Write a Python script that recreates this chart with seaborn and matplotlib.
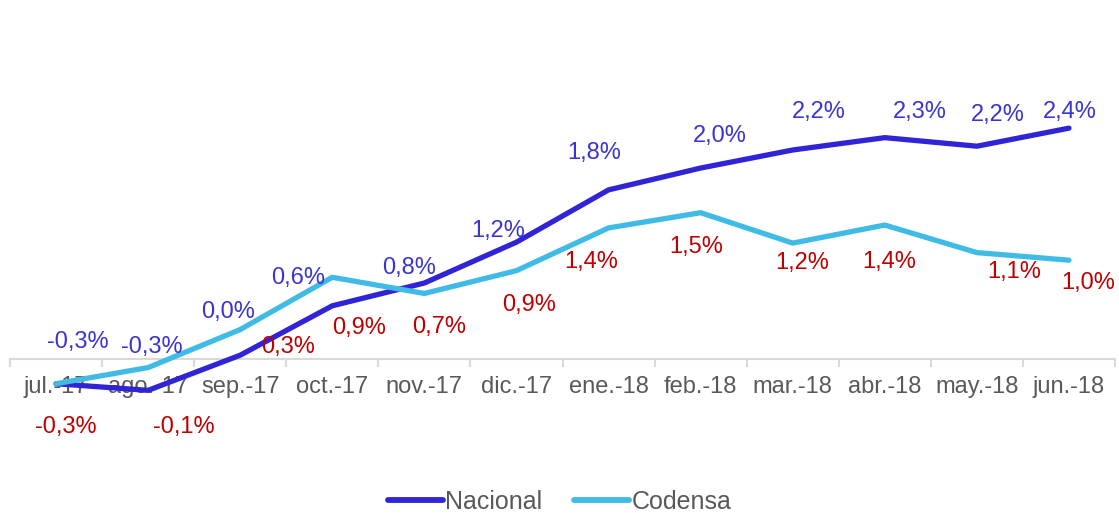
import matplotlib
matplotlib.use("Agg")
import matplotlib.pyplot as plt
import seaborn as sns
import pandas as pd
import numpy as np

months = ["jul.-17", "ago.-17", "sep.-17", "oct.-17", "nov.-17", "dic.-17",
          "ene.-18", "feb.-18", "mar.-18", "abr.-18", "may.-18", "jun.-18"]
nacional = [-0.26, -0.33, 0.04, 0.56, 0.80, 1.23, 1.78, 2.01, 2.20, 2.33, 2.24, 2.43]
codensa = [-0.26, -0.09, 0.31, 0.86, 0.69, 0.93, 1.38, 1.54, 1.22, 1.41, 1.12, 1.04]

# label offsets in pixels (dx right, dy up) -- styling only
nac_off = [(22, 42), (4, 43), (-12, 43), (-34, 28), (-15, 15), (-18, 11),
           (-14, 37), (19, 32), (26, 38), (35, 26), (21, 31), (1, 16)]
cod_off = [(10, -43), (36, -59), (48, -17), (27, -51), (15, -34), (13, -34),
           (-17, -34), (-4, -34), (9, -20), (4, -37), (37, -19), (19, -23)]

C_NAC = "#3024D6"
C_COD = "#40BBE6"
C_NAC_LBL = "#3A34D2"
C_COD_LBL = "#C00000"
C_TXT = "#595959"
C_AX = "#D9D9D9"
FS = 17

sns.set_theme(style="white")
plt.rcParams["font.family"] = ["Liberation Sans", "DejaVu Sans"]

W, H = 1119, 513
fig = plt.figure(figsize=(W / 100, H / 100), dpi=100)
ax = fig.add_axes([10 / W, (H - 406.5) / H, 1105 / W, 332.5 / H])

idx = list(range(len(months)))
df = pd.DataFrame({
    "x": idx * 2,
    "valor": nacional + codensa,
    "serie": ["Nacional"] * len(months) + ["Codensa"] * len(months),
})
sns.lineplot(data=df, x="x", y="valor", hue="serie",
             hue_order=["Nacional", "Codensa"],
             palette={"Nacional": C_NAC, "Codensa": C_COD},
             linewidth=3.8, ax=ax, sort=False, legend=True,
             solid_capstyle="round")

ax.set_xlim(-0.5, 11.5)
ax.set_ylim(-0.5, 3.0)
for s in ["top", "left", "right"]:
    ax.spines[s].set_visible(False)
ax.spines["bottom"].set_position(("data", 0))
ax.spines["bottom"].set_color(C_AX)
ax.spines["bottom"].set_linewidth(1.5)
ax.spines["bottom"].set_zorder(0)
ax.set_yticks([])
ax.set_xticks(idx)
ax.set_xticklabels(months)
ax.set_xticks(np.arange(-0.5, 12, 1), minor=True)
ax.tick_params(axis="x", which="major", length=0, pad=12.5, labelsize=FS,
               labelcolor=C_TXT)
ax.tick_params(axis="x", which="minor", bottom=True, length=6, width=1.5,
               color=C_AX, direction="out")
ax.set_xlabel("")
ax.set_ylabel("")

def fmt(v):
    return f"{v:.1f}".replace(".", ",") + "%"

for i, v in enumerate(nacional):
    ax.annotate(fmt(v), (i, v), xytext=nac_off[i], textcoords="offset pixels",
                ha="center", va="center", fontsize=FS, color=C_NAC_LBL)
for i, v in enumerate(codensa):
    ax.annotate(fmt(v), (i, v), xytext=cod_off[i], textcoords="offset pixels",
                ha="center", va="center", fontsize=FS, color=C_COD_LBL)

handles, labels = ax.get_legend_handles_labels()
ax.get_legend().remove()
leg = fig.legend(handles, labels, loc="center", bbox_to_anchor=(0.5, 1 - 502 / H),
                 ncol=2, frameon=False, fontsize=18, handlelength=2.2,
                 handletextpad=0.08, columnspacing=1.3, borderpad=0)
for t in leg.get_texts():
    t.set_color(C_TXT)
for l in leg.get_lines():
    l.set_linewidth(4.2)

fig.savefig("out.png", dpi=100)
